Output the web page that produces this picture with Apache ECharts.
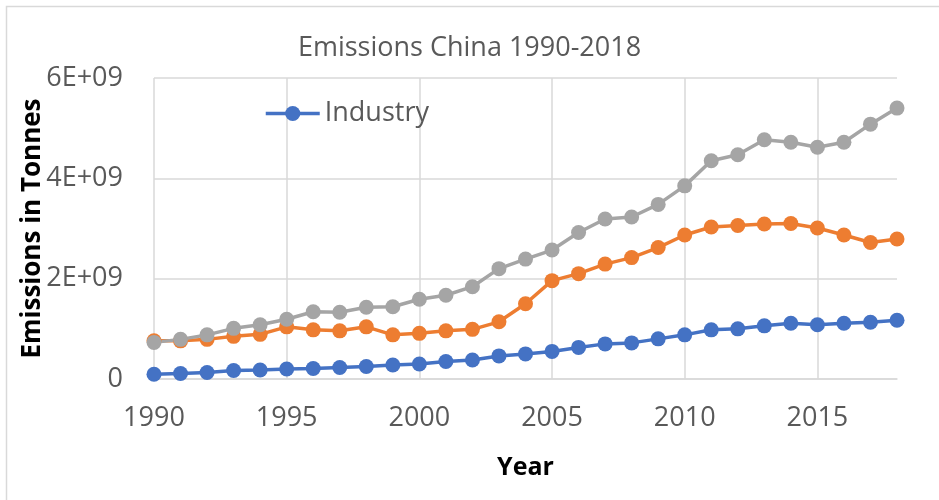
<!DOCTYPE html>
<html>
<head>
<meta charset="utf-8">
<script src="https://cdn.jsdelivr.net/npm/echarts@6/dist/echarts.min.js"></script>
<style>
  html, body { margin: 0; padding: 0; background: #fff; }
  #chart { width: 939px; height: 500px; }
</style>
</head>
<body>
<div id="chart"></div>
<script>
const years = []
for (let y = 1990; y <= 2018; y++) years.push(String(y))

// values (tonnes)
const industry = [0.094, 0.11, 0.13, 0.17, 0.18, 0.20, 0.21, 0.23, 0.25, 0.28,
  0.30, 0.35, 0.38, 0.46, 0.50, 0.55, 0.63, 0.70, 0.72, 0.80,
  0.88, 0.98, 1.00, 1.06, 1.11, 1.08, 1.11, 1.13, 1.17].map(v => v * 1e9)
const energy = [0.76, 0.76, 0.79, 0.85, 0.89, 1.04, 0.98, 0.96, 1.04, 0.88,
  0.91, 0.96, 0.99, 1.14, 1.50, 1.96, 2.10, 2.29, 2.42, 2.62,
  2.87, 3.03, 3.06, 3.09, 3.10, 3.01, 2.87, 2.72, 2.79].map(v => v * 1e9)
const total = [0.73, 0.79, 0.88, 1.01, 1.08, 1.19, 1.34, 1.33, 1.43, 1.44,
  1.59, 1.67, 1.84, 2.20, 2.39, 2.57, 2.92, 3.19, 3.23, 3.48,
  3.85, 4.35, 4.47, 4.77, 4.72, 4.62, 4.72, 5.08, 5.40].map(v => v * 1e9)

const font = 'Open Sans'
const grey = '#595959'
const gridColor = '#D9D9D9'

const chart = echarts.init(document.getElementById('chart'))

function lineSeries(name, color, data) {
  return {
    name: name,
    type: 'line',
    data: data,
    symbol: 'circle',
    symbolSize: 15,
    lineStyle: { color: color, width: 3.5 },
    itemStyle: { color: color },
    emphasis: { disabled: true }
  }
}

chart.setOption({
  animation: false,
  textStyle: { fontFamily: font },
  title: {
    text: 'Emissions China 1990-2018',
    left: 'center',
    top: 30,
    textStyle: { fontFamily: font, fontSize: 27, fontWeight: 'normal', color: grey }
  },
  legend: {
    data: ['Industry'],
    left: 264,
    top: 100,
    padding: 0,
    itemWidth: 54,
    itemHeight: 19,
    itemGap: 5,
    lineStyle: { width: 3.5 },
    textStyle: { fontFamily: font, fontSize: 27, color: grey }
  },
  grid: { left: 154, right: 42, top: 78, bottom: 121, containLabel: false },
  xAxis: {
    type: 'category',
    data: years,
    boundaryGap: false,
    name: 'Year',
    nameLocation: 'middle',
    nameGap: 76,
    nameMoveOverlap: false,
    nameTextStyle: { fontFamily: font, fontSize: 25, fontWeight: 'bold', color: '#000' },
    axisLine: { lineStyle: { color: gridColor, width: 1.5 } },
    axisTick: { show: false },
    axisLabel: { interval: 4, margin: 26, fontSize: 27, color: grey },
    splitLine: { show: true, interval: 4, lineStyle: { color: gridColor, width: 1.5 } }
  },
  yAxis: {
    type: 'value',
    min: 0,
    max: 6e9,
    interval: 2e9,
    name: 'Emissions in Tonnes',
    nameLocation: 'middle',
    nameGap: 108,
    nameMoveOverlap: false,
    nameTextStyle: { fontFamily: font, fontSize: 26, fontWeight: 'bold', color: '#000' },
    axisLine: { show: false },
    axisTick: { show: false },
    axisLabel: {
      margin: 31,
      fontSize: 27,
      color: grey,
      formatter: v => v === 0 ? '0' : (v / 1e9) + 'E+09'
    },
    splitLine: { lineStyle: { color: gridColor, width: 1.5 } }
  },
  graphic: [{
    type: 'polyline',
    silent: true,
    shape: { points: [[6.5, 500], [6.5, 6.5], [939, 6.5]] },
    style: { stroke: gridColor, lineWidth: 1.5, fill: null }
  }],
  series: [
    lineSeries('Industry', '#4472C4', industry),
    lineSeries('Energy', '#ED7D31', energy),
    lineSeries('Total', '#A5A5A5', total)
  ]
})
</script>
</body>
</html>
